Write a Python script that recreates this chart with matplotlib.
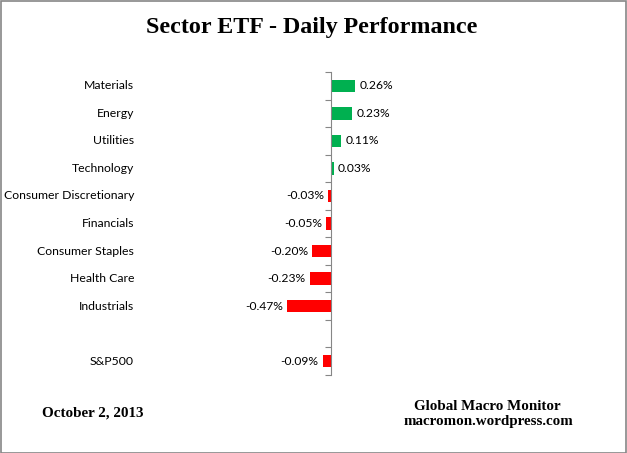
import matplotlib
matplotlib.use("Agg")
import matplotlib.pyplot as plt
import matplotlib.transforms as mtransforms
from matplotlib.patches import Rectangle

# Données
sectors = ["Materials", "Energy", "Utilities", "Technology", "Consumer Discretionary",
           "Financials", "Consumer Staples", "Health Care", "Industrials", "", "S&P500"]
perf = [0.26, 0.23, 0.11, 0.03, -0.03, -0.05, -0.20, -0.23, -0.47, None, -0.09]
value_labels = ["0.26%", "0.23%", "0.11%", "0.03%", "-0.03%", "-0.05%", "-0.20%",
                "-0.23%", "-0.47%", "", "-0.09%"]

W, H = 627, 453
fig = plt.figure(figsize=(W / 100, H / 100), dpi=100)

# axes: x pixels 280..380, y pixels 72..375, zero at x=331
px_per_pct = 93.0
ax = fig.add_axes([280 / W, 1 - 375 / H, 100 / W, 303 / H])
ax.set_xlim(-(331 - 280) / px_per_pct, (380 - 331) / px_per_pct)
ax.set_ylim(len(sectors) - 0.5, -0.5)
ax.patch.set_alpha(0)

for i, (v, lab) in enumerate(zip(perf, value_labels)):
    if v is None:
        continue
    color = "#00B050" if v >= 0 else "#FF0000"
    ax.barh(i, v, height=0.45, color=color, linewidth=0)
    if v >= 0:
        ax.text(v + 0.045, i, lab, ha="left", va="center", fontsize=8.7,
                family="Lato", clip_on=False)
    else:
        ax.text(v - 0.045, i, lab, ha="right", va="center", fontsize=8.7,
                family="Lato", clip_on=False)

for s in ["top", "right", "bottom"]:
    ax.spines[s].set_visible(False)
ax.spines["left"].set_position(("data", 0))
ax.spines["left"].set_color("#868686")
ax.set_xticks([])
ax.set_yticks([i - 0.5 for i in range(len(sectors) + 1)])
ax.set_yticklabels([])
ax.tick_params(axis="y", length=4, width=0.8, color="#868686", direction="out")

trans = mtransforms.blended_transform_factory(fig.transFigure, ax.transData)
for i, name in enumerate(sectors):
    ax.text(134 / W, i, name, transform=trans, ha="right", va="center",
            fontsize=8.8, family="Lato", clip_on=False)

fig.text(312 / W, 1 - 33 / H, "Sector ETF - Daily Performance", ha="center", va="baseline",
         fontsize=17.3, fontweight="bold", family="Liberation Serif")
fig.text(42 / W, 1 - 417 / H, "October 2, 2013", ha="left", va="baseline",
         fontsize=10.9, fontweight="bold", family="Liberation Serif")
fig.text(487 / W, 1 - 410 / H, "Global Macro Monitor", ha="center", va="baseline",
         fontsize=10.8, fontweight="bold", family="Liberation Serif")
fig.text(488 / W, 1 - 425 / H, "macromon.wordpress.com", ha="center", va="baseline",
         fontsize=10.8, fontweight="bold", family="Liberation Serif")

fig.patches.append(Rectangle((0.5 / W, 0.5 / H), 1 - 1.5 / W, 1 - 1.5 / H,
                             transform=fig.transFigure, fill=False,
                             edgecolor="#868686", linewidth=1.2))

fig.savefig("out.png", dpi=100)
